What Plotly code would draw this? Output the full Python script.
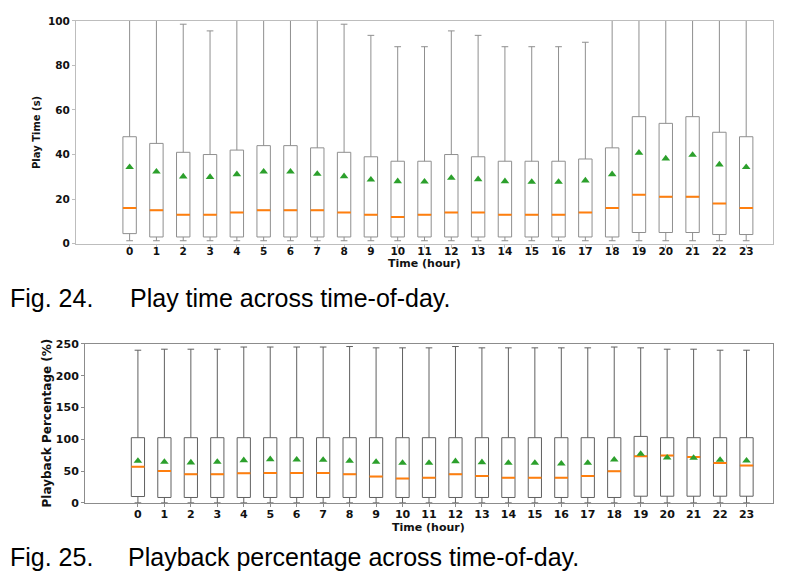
import plotly.graph_objects as go

hours = list(range(24))
hour_labels = [str(h) for h in hours]

# Fig. 24 - Play time (s)
pt_lower = [1.3] * 24
pt_q1 = [4.5, 3, 3, 3, 3, 3, 3, 3, 3, 3, 3, 3, 3, 3, 3, 3, 3, 3, 3, 5, 5, 5, 4.1, 4.1]
pt_median = [16, 15, 13, 13, 14, 15, 15, 15, 14, 13, 12, 13, 14, 14, 13, 13, 13, 14, 16, 22, 21, 21, 18, 16]
pt_q3 = [48, 45, 41, 40, 42, 44, 44, 43, 41, 39, 37, 37, 40, 39, 37, 37, 37, 38, 43, 57, 54, 57, 50, 48]
pt_upper = [110, 110, 98.5, 95.5, 110, 110, 110, 110, 98.5, 93.5, 88.4, 88.4, 95.5, 93.5, 88.4, 88.4,
            88.4, 90.4, 110, 110, 110, 110, 110, 110]
pt_mean = [34.3, 32.3, 30.1, 29.9, 31.1, 32.3, 32.3, 31.3, 30.2, 28.7, 28.0, 27.8, 29.5, 28.9, 28.0, 27.7,
           27.7, 28.3, 31.1, 40.8, 38.2, 39.8, 35.5, 34.3]

# Fig. 25 - Playback percentage (%)
pp_lower = [0] * 24
pp_q1 = [10] + [8.5] * 18 + [10.5] * 5
pp_median = [57, 50.2, 45, 45, 46.5, 47, 47, 47, 45, 41.3, 38.2, 39.7, 45, 42.4, 39.7, 39.7, 39.7, 42.4,
             49.7, 73.2, 74.3, 72.2, 62.8, 58.6]
pp_q3 = [102.5] * 19 + [104.5] + [102.5] * 4
pp_upper = [240, 241.6, 241.6, 241.6, 245, 245, 245, 245, 245.8, 243.7, 243.7, 243.7, 245.8, 243.7, 243.7,
            243.7, 243.7, 243.7, 245, 243.7, 241.6, 241.6, 240, 240]
pp_mean = [66, 64.3, 63.3, 64.3, 67, 68.5, 68, 67.5, 66, 64.3, 62.8, 62.8, 65.4, 63.8, 62.8, 62.8, 61.7,
           62.8, 68, 76.9, 71.1, 70.6, 67.5, 66.4]

BOX_W = 0.5
ORANGE = "#ff7f0e"
GREEN = "#2ca02c"
FONT = "DejaVu Sans"

# page has an 8px body margin; figure fills the rest of the 800x582 window
OFF = 8
W, H = 800 - 2 * OFF, 582 - 2 * OFF


def xp(px):
    return (px - OFF) / W


def yp(py):
    fy = (py - 5.3) / 0.978 - OFF
    return 1 - fy / H


def median_segments(xs, med):
    sx, sy = [], []
    for x, m in zip(xs, med):
        sx += [x - BOX_W / 2, x + BOX_W / 2, None]
        sy += [m, m, None]
    return sx, sy


fig = go.Figure()

panels = [
    (pt_lower, pt_q1, pt_median, pt_q3, pt_upper, pt_mean, "x", "y", "#8f8f8f"),
    (pp_lower, pp_q1, pp_median, pp_q3, pp_upper, pp_mean, "x2", "y2", "#606060"),
]
for lo, q1, med, q3, up, mean, xa, ya, col in panels:
    fig.add_trace(go.Box(
        x=hours, q1=q1, median=med, q3=q3, lowerfence=lo, upperfence=up,
        width=BOX_W, whiskerwidth=0.5, boxpoints=False,
        line=dict(color=col, width=1), fillcolor="rgba(255,255,255,0)",
        xaxis=xa, yaxis=ya, hoverinfo="skip",
    ))
    sx, sy = median_segments(hours, med)
    fig.add_trace(go.Scatter(x=sx, y=sy, mode="lines", line=dict(color=ORANGE, width=2),
                             xaxis=xa, yaxis=ya, hoverinfo="skip"))
    fig.add_trace(go.Scatter(x=hours, y=mean, mode="markers",
                             marker=dict(symbol="triangle-up", size=7.5, color=GREEN),
                             xaxis=xa, yaxis=ya, hoverinfo="skip", cliponaxis=False))

axis_common = dict(showline=True, mirror=True, ticks="outside", ticklen=3, showgrid=False,
                   zeroline=False)

fig.update_layout(
    width=W, height=H, margin=dict(l=0, r=0, t=0, b=0),
    paper_bgcolor="white", plot_bgcolor="white", showlegend=False,
    xaxis=dict(domain=[xp(76), xp(773)], anchor="y", range=[-2, 24], tickvals=hours, ticktext=hour_labels,
               linecolor="#bdbdbd", tickcolor="#bdbdbd", ticklabelstandoff=-5,
               tickfont=dict(family=FONT, size=10.5, color="#111", weight="bold"), **axis_common),
    yaxis=dict(domain=[yp(243), yp(20)], anchor="x", range=[0, 100], tickvals=[0, 20, 40, 60, 80, 100],
               linecolor="#bdbdbd", tickcolor="#bdbdbd",
               tickfont=dict(family=FONT, size=10.5, color="#111", weight="bold"), **axis_common),
    xaxis2=dict(domain=[xp(85), xp(773)], anchor="y2", range=[-2, 24], tickvals=hours, ticktext=hour_labels,
                linecolor="#8c8c8c", tickcolor="#8c8c8c", ticklabelstandoff=-2,
                tickfont=dict(family=FONT, size=11, color="#111", weight="bold"), **axis_common),
    yaxis2=dict(domain=[yp(502.5), yp(343.3)], anchor="x2", range=[0, 250],
                tickvals=[0, 50, 100, 150, 200, 250],
                linecolor="#8c8c8c", tickcolor="#8c8c8c",
                tickfont=dict(family=FONT, size=11, color="#111", weight="bold"), **axis_common),
)

ann_font_small = dict(family=FONT, color="#111", weight="bold")
cap_font = dict(family="Liberation Sans", size=25, color="black")
annotations = [
    dict(text="Play Time (s)", x=xp(35.8), y=yp(131.5), textangle=-90, font=dict(size=10, **ann_font_small)),
    dict(text="Time (hour)", x=xp(424), y=yp(263), font=dict(size=11, **ann_font_small)),
    dict(text="Playback Percentage (%)", x=xp(47), y=yp(423), textangle=-90,
         font=dict(size=12, **ann_font_small)),
    dict(text="Time (hour)", x=xp(428.5), y=yp(527), font=dict(size=11, **ann_font_small)),
    dict(text="Fig. 24.", x=xp(8), y=yp(297), xanchor="left", font=cap_font),
    dict(text="Play time across time-of-day.", x=xp(128), y=yp(297), xanchor="left", font=cap_font),
    dict(text="Fig. 25.", x=xp(8), y=yp(557), xanchor="left", font=cap_font),
    dict(text="Playback percentage across time-of-day.", x=xp(126), y=yp(557), xanchor="left",
         font=cap_font),
]
for a in annotations:
    a.setdefault("xanchor", "center")
    a.setdefault("yanchor", "middle")
    fig.add_annotation(xref="paper", yref="paper", showarrow=False, **a)

fig.write_html("out.html")
